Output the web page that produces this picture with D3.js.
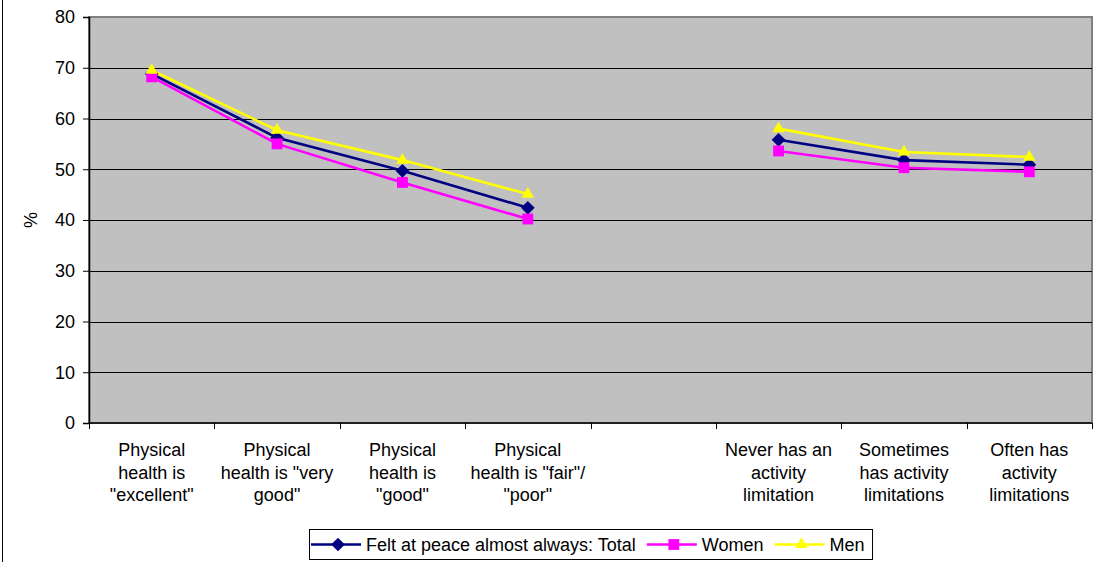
<!DOCTYPE html>
<html>
<head>
<meta charset="utf-8">
<script src="https://cdn.jsdelivr.net/npm/d3@7"></script>
<style>
  html, body { margin: 0; padding: 0; background: #fff; }
  svg { display: block; }
  text { font-family: Arial, "Liberation Sans", sans-serif; fill: #000; }
</style>
</head>
<body>
<svg id="chart" width="1106" height="562"></svg>
<script>
// Category labels (line breaks as drawn); the fifth slot is an empty spacer
const categories = [
  'Physical\nhealth is\n"excellent"',
  'Physical\nhealth is "very\ngood"',
  'Physical\nhealth is\n"good"',
  'Physical\nhealth is "fair"/\n"poor"',
  '',
  'Never has an\nactivity\nlimitation',
  'Sometimes\nhas activity\nlimitations',
  'Often has\nactivity\nlimitations'
];
const totalValues = [68.8, 56.2, 49.7, 42.4, null, 55.8, 51.8, 50.9];
const womenValues = [68.2, 55.0, 47.4, 40.2, null, 53.6, 50.3, 49.5];
const menValues   = [69.5, 57.7, 51.8, 45.1, null, 58.0, 53.4, 52.4];
const yTicks = [0, 10, 20, 30, 40, 50, 60, 70, 80];
const seriesNames = ['Felt at peace almost always: Total', 'Women', 'Men'];

const series = [
  { name: seriesNames[0], values: totalValues, color: '#000080', symbol: d3.symbolDiamond2, size: 120 },
  { name: seriesNames[1], values: womenValues, color: '#FF00FF', symbol: d3.symbolSquare2, size: 150 },
  { name: seriesNames[2], values: menValues,   color: '#FFFF00', symbol: d3.symbolTriangle2, size: 110 }
];

const svg = d3.select('#chart');
const fontSize = 18;

// chart area border (left edge)
svg.append('line').attr('x1', 2.5).attr('x2', 2.5).attr('y1', 0).attr('y2', 562)
  .attr('stroke', '#000').attr('stroke-width', 1);

const plot = { left: 89, right: 1092, top: 17, bottom: 423 };

const x = d3.scaleBand().domain(d3.range(categories.length))
  .range([plot.left, plot.right]).padding(0);
const y = d3.scaleLinear().domain([0, 80]).range([plot.bottom, plot.top]);

// plot background
svg.append('rect')
  .attr('x', plot.left).attr('y', plot.top)
  .attr('width', plot.right - plot.left).attr('height', plot.bottom - plot.top)
  .attr('fill', '#C0C0C0').attr('stroke', '#808080').attr('stroke-width', 2);

// horizontal gridlines
svg.append('g').selectAll('line').data(yTicks.filter(t => t > 0 && t < 80)).join('line')
  .attr('x1', plot.left).attr('x2', plot.right)
  .attr('y1', d => Math.round(y(d)) + 0.5).attr('y2', d => Math.round(y(d)) + 0.5)
  .attr('stroke', '#000').attr('stroke-width', 1);

// y axis
const yAxis = svg.append('g').attr('transform', `translate(${plot.left},0)`)
  .call(d3.axisLeft(y).tickValues(yTicks).tickSize(6).tickPadding(8));
yAxis.select('.domain').attr('stroke', '#000').attr('stroke-width', 1.5);
yAxis.selectAll('.tick line').attr('stroke', '#000');
yAxis.selectAll('.tick text').style('font-size', fontSize + 'px')
  .style('font-family', 'Arial, "Liberation Sans", sans-serif').attr('fill', '#000');

// y axis title
svg.append('text')
  .attr('transform', `translate(37,${(plot.top + plot.bottom) / 2}) rotate(-90)`)
  .attr('text-anchor', 'middle')
  .style('font-size', fontSize + 'px')
  .text('%');

// x axis line and tick marks at category boundaries
const xg = svg.append('g');
xg.append('line').attr('x1', plot.left).attr('x2', plot.right)
  .attr('y1', plot.bottom).attr('y2', plot.bottom)
  .attr('stroke', '#000').attr('stroke-width', 1.5);
xg.selectAll('line.tick').data(d3.range(categories.length + 1)).join('line')
  .attr('class', 'tick')
  .attr('x1', i => Math.round(i < categories.length ? x(i) : plot.right) + 0.5)
  .attr('x2', i => Math.round(i < categories.length ? x(i) : plot.right) + 0.5)
  .attr('y1', plot.bottom).attr('y2', plot.bottom + 6)
  .attr('stroke', '#000');

// category labels
const labels = xg.selectAll('text.cat').data(categories).join('text')
  .attr('class', 'cat')
  .attr('text-anchor', 'middle')
  .style('font-size', fontSize + 'px');
labels.each(function (d, i) {
  const cx = x(i) + x.bandwidth() / 2;
  d3.select(this).selectAll('tspan').data(d ? d.split('\n') : []).join('tspan')
    .attr('x', cx)
    .attr('y', (line, j) => 456 + j * 22.7)
    .text(line => line);
});

// series lines and markers
const line = d3.line()
  .defined(v => v != null)
  .x((v, i) => x(i) + x.bandwidth() / 2)
  .y(v => y(v));

series.forEach(s => {
  svg.append('path')
    .datum(s.values)
    .attr('fill', 'none')
    .attr('stroke', s.color)
    .attr('stroke-width', 2.6)
    .attr('d', line);
});
series.forEach(s => {
  svg.append('g').selectAll('path')
    .data(s.values.map((v, i) => ({ v, i })).filter(p => p.v != null))
    .join('path')
    .attr('d', d3.symbol().type(s.symbol).size(s.size))
    .attr('transform', p => `translate(${x(p.i) + x.bandwidth() / 2},${y(p.v)})`)
    .attr('fill', s.color);
});

// legend
const legend = svg.append('g');
const legendBox = legend.append('rect')
  .attr('x', 309.5).attr('y', 529.5).attr('height', 30)
  .attr('fill', '#fff').attr('stroke', '#000').attr('stroke-width', 1);
let lx = 311;
const ly = 544.5;
series.forEach(s => {
  legend.append('line').attr('x1', lx).attr('x2', lx + 50)
    .attr('y1', ly).attr('y2', ly)
    .attr('stroke', s.color).attr('stroke-width', 2.6);
  legend.append('path')
    .attr('d', d3.symbol().type(s.symbol).size(s.size))
    .attr('transform', `translate(${lx + 27},${ly})`)
    .attr('fill', s.color);
  const t = legend.append('text')
    .attr('x', lx + 55).attr('y', ly + 6.5)
    .style('font-size', fontSize + 'px')
    .text(s.name);
  lx = lx + 55 + t.node().getComputedTextLength() + 11;
});
legendBox.attr('width', lx - 309.5 - 3);
</script>
</body>
</html>
